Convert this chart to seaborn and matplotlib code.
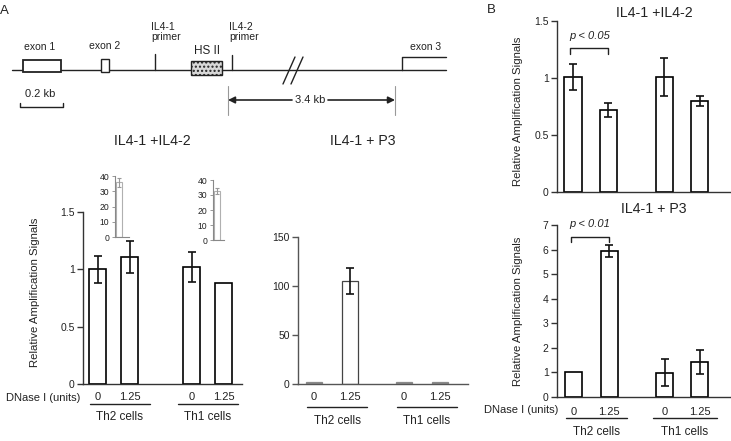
import matplotlib
matplotlib.use("Agg")
import matplotlib.pyplot as plt
import seaborn as sns
import pandas as pd
import numpy as np

# ---------------- data ----------------
cells = ["Th2 cells", "Th1 cells"]
dnase = ["0", "1.25"]

a_il42_vals = [1.00, 1.11, 1.02, 0.88]
a_il42_err = [0.12, 0.14, 0.13, 0.0]
a_p3_vals = [2, 105, 2, 2]
a_p3_err = [0, 13, 0, 0]
inset_vals = [36, 33]
inset_err = [3, 2]
b_il42_vals = [1.01, 0.72, 1.01, 0.80]
b_il42_err = [0.115, 0.06, 0.165, 0.045]
b_p3_vals = [1.03, 5.95, 0.99, 1.41]
b_p3_err = [0.0, 0.25, 0.54, 0.49]

il42_ticks = [0, 0.5, 1, 1.5]
il42_ticklabels = ["0", "0.5", "1", "1.5"]
p3a_ticks = [0, 50, 100, 150]
p3b_ticks = [0, 1, 2, 3, 4, 5, 6, 7]
inset_ticks = [0, 10, 20, 30, 40]

p3a_fill = ["#8a8a8a", "white", "#8a8a8a", "#8a8a8a"]

sns.set_style("white")
plt.rcParams["font.family"] = ["Liberation Sans", "DejaVu Sans"]
TXT = "#222222"

W, H = 731, 441
fig = plt.figure(figsize=(W / 100, H / 100), dpi=100)


def px_axes(left, top, right, bottom, **kw):
    return fig.add_axes([left / W, 1 - bottom / H, (right - left) / W, (bottom - top) / H], **kw)


# overlay in pixel coordinates for diagram and annotations
ov = fig.add_axes([0, 0, 1, 1], zorder=-5)
ov.set_xlim(0, W)
ov.set_ylim(H, 0)
ov.axis("off")


def make_df(vals):
    return pd.DataFrame({
        "cells": [c for c in cells for _ in dnase],
        "dnase": dnase * len(cells),
        "value": vals,
    })


def bar_panel(ax, vals, errs, width, gap, xlim, ylim, ticks, ticklabels,
              spine_col="#333333", edge="black", lw=1.2, fills=None):
    df = make_df(vals)
    sns.barplot(data=df, x="cells", y="value", hue="dnase", order=cells,
                hue_order=dnase, palette=["white", "white"], saturation=1,
                edgecolor=edge, linewidth=lw, width=width, gap=gap,
                errorbar=None, legend=False, ax=ax)
    bars = sorted(ax.patches, key=lambda p: p.get_x())
    centers = [p.get_x() + p.get_width() / 2 for p in bars]
    if fills is not None:
        for p, f in zip(bars, fills):
            p.set_facecolor(f)
            if f != "white":
                p.set_edgecolor(f)
    for c, v, e in zip(centers, vals, errs):
        if e > 0:
            ax.errorbar([c], [v], yerr=[e], fmt="none", ecolor="#111111",
                        elinewidth=1.2, capsize=3.0, capthick=1.2, zorder=5)
    ax.set_xlim(*xlim)
    ax.set_ylim(*ylim)
    ax.set_yticks(ticks)
    ax.set_yticklabels(ticklabels)
    for s in ["top", "right"]:
        ax.spines[s].set_visible(False)
    for s in ["left", "bottom"]:
        ax.spines[s].set_color(spine_col)
        ax.spines[s].set_linewidth(1.0)
    ax.tick_params(axis="y", left=True, length=4, width=1.0, color=spine_col,
                   labelsize=7.5, labelcolor=TXT, pad=2)
    ax.set_xlabel("")
    ax.set_ylabel("")
    ax.patch.set_alpha(0)
    return centers


def xlabels(ax, centers, pad):
    ax.set_xticks(centers)
    ax.set_xticklabels(dnase * len(cells))
    ax.tick_params(axis="x", bottom=False, length=0, labelsize=8,
                   labelcolor=TXT, pad=pad)


# ---------------- Panel A, IL4-1 + IL4-2 ----------------
axA1 = px_axes(83, 212, 242, 384)
cA1 = bar_panel(axA1, a_il42_vals, a_il42_err, 0.68, 0.47, (-0.324, 1.363),
                (0, 1.5), il42_ticks, il42_ticklabels)
xlabels(axA1, cA1, 6)
axA1.set_ylabel("Relative Amplification Signals", fontsize=8.2, color=TXT)
axA1.yaxis.set_label_coords(-0.27, 0.535)

# insets
for (l, t, r, b), v, e in zip([(115, 176, 129, 237), (213, 180, 224, 240)],
                              inset_vals, inset_err):
    axi = px_axes(l, t, r, b)
    sns.barplot(x=["x"], y=[v], color="white", saturation=1, edgecolor="#b0b0b0",
                linewidth=0.8, width=0.8, errorbar=None, ax=axi)
    p = axi.patches[0]
    axi.errorbar([p.get_x() + p.get_width() / 2], [v], yerr=[e], fmt="none",
                 ecolor="#999999", elinewidth=0.8, capsize=1.2, capthick=0.8)
    axi.set_xlim(-0.53, 1.33 if l == 115 else 0.9)
    axi.set_ylim(0, 40)
    axi.set_yticks(inset_ticks)
    axi.set_xticks([])
    for s in ["top", "right"]:
        axi.spines[s].set_visible(False)
    for s in ["left", "bottom"]:
        axi.spines[s].set_color("#888888")
        axi.spines[s].set_linewidth(0.8)
    axi.tick_params(axis="y", left=True, length=2, width=0.6, color="#888888",
                    labelsize=6.2, labelcolor=TXT, pad=2)
    axi.patch.set_alpha(0)

# ---------------- Panel A, IL4-1 + P3 ----------------
axA2 = px_axes(298, 237, 468, 384)
cA2 = bar_panel(axA2, a_p3_vals, a_p3_err, 0.8, 0.556, (-0.378, 1.511),
                (0, 150), p3a_ticks, [str(t) for t in p3a_ticks],
                spine_col="#555555", edge="#444444", lw=0.9, fills=p3a_fill)
xlabels(axA2, cA2, 6)

# ---------------- Panel B, IL4-1 + IL4-2 ----------------
axB1 = px_axes(557, 21, 731, 192)
cB1 = bar_panel(axB1, b_il42_vals, b_il42_err, 0.773, 0.5, (-0.37, 1.537),
                (0, 1.5), il42_ticks, il42_ticklabels)
axB1.set_xticks([])
axB1.set_ylabel("Relative Amplification Signals", fontsize=8.2, color=TXT)
axB1.yaxis.set_label_coords(-0.195, 0.474)

# ---------------- Panel B, IL4-1 + P3 ----------------
axB2 = px_axes(557, 225, 731, 397)
cB2 = bar_panel(axB2, b_p3_vals, b_p3_err, 0.777, 0.52, (-0.38, 1.537),
                (0, 7), p3b_ticks, [str(t) for t in p3b_ticks])
xlabels(axB2, cB2, 7)
axB2.set_ylabel("Relative Amplification Signals", fontsize=8.2, color=TXT)
axB2.yaxis.set_label_coords(-0.195, 0.5)


# significance brackets
def bracket(ax, x0, x1, y, drop, ytxt, label):
    ax.plot([x0, x0, x1, x1], [y - drop, y, y, y - drop], color="#222222",
            lw=1.0, clip_on=False)
    ax.text((x0 + x1) / 2, ytxt, label, ha="center", va="center",
            fontsize=8, style="italic", color=TXT, clip_on=False)


bracket(axB1, cB1[0] - 0.03, cB1[1], 1.263, 0.05, 1.37, "p < 0.05")
bracket(axB2, cB2[0] - 0.03, cB2[1], 6.51, 0.2, 7.04, "p < 0.01")

# ---------------- text annotations (pixel overlay) ----------------
ov.text(0, 11, "A", fontsize=9.5, va="center", ha="left", color=TXT)
ov.text(487, 10, "B", fontsize=9.5, va="center", ha="left", color=TXT)

ov.text(152, 141, "IL4-1 +IL4-2", fontsize=10.2, ha="center", va="center", color=TXT)
ov.text(363, 141, "IL4-1 + P3", fontsize=10.2, ha="center", va="center", color=TXT)
ov.text(654, 13, "IL4-1 +IL4-2", fontsize=10.2, ha="center", va="center", color=TXT)
ov.text(654, 209, "IL4-1 + P3", fontsize=10.2, ha="center", va="center", color=TXT)

ov.text(43, 398, "DNase I (units)", fontsize=8, ha="center", va="center", color=TXT)
ov.text(521, 410, "DNase I (units)", fontsize=8, ha="center", va="center", color=TXT)

groups = [
    # (line y, text y, [(x0,x1),(x0,x1)])
    (404, 417, [(90, 150), (178, 238)]),
    (407, 421, [(307, 367), (397, 457)]),
    (418, 432, [(566, 627), (653, 717)]),
]
for ly, ty, spans in groups:
    for (x0, x1), name in zip(spans, cells):
        ov.plot([x0, x1], [ly, ly], color="#222222", lw=1.0)
        ov.text((x0 + x1) / 2, ty, name, fontsize=8.5, ha="center", va="center",
                color=TXT)

# ---------------- gene diagram ----------------
lc = "#222222"
ov.plot([12, 402], [70, 70], color=lc, lw=1.0)
ov.plot([402, 446], [70, 70], color=lc, lw=1.0)
ov.plot([402, 402, 446], [70, 57, 57], color=lc, lw=1.0)
# break marks
ov.plot([283, 295], [84, 57], color=lc, lw=1.0)
ov.plot([291, 303], [84, 57], color=lc, lw=1.0)
# exons
ov.add_patch(plt.Rectangle((23, 60), 38, 12, facecolor="white", edgecolor=lc, lw=1.3, zorder=3))
ov.add_patch(plt.Rectangle((100.5, 59), 8.5, 13, facecolor="white", edgecolor=lc, lw=1.0, zorder=3))
# HS II
ov.add_patch(plt.Rectangle((191, 61), 31, 14, facecolor="#d8d8d8", edgecolor=lc, lw=1.0,
                           hatch="....", zorder=3))
# primers
ov.plot([155, 155], [54, 70], color=lc, lw=1.0)
ov.plot([232, 232], [55, 70], color=lc, lw=1.0)
ov.text(40, 47, "exon 1", fontsize=7.5, ha="center", va="center", color=TXT)
ov.text(105, 46, "exon 2", fontsize=7.5, ha="center", va="center", color=TXT)
ov.text(151, 32, "IL4-1\nprimer", fontsize=7.5, ha="left", va="center", color=TXT,
        linespacing=1.1)
ov.text(229, 32, "IL4-2\nprimer", fontsize=7.5, ha="left", va="center", color=TXT,
        linespacing=1.1)
ov.text(207, 51, "HS II", fontsize=8.5, ha="center", va="center", color=TXT)
ov.text(426, 47, "exon 3", fontsize=7.5, ha="center", va="center", color=TXT)
# scale bar
ov.plot([20, 20, 63, 63], [103, 107, 107, 103], color=lc, lw=1.0)
ov.text(40, 94, "0.2 kb", fontsize=8, ha="center", va="center", color=TXT)
# 3.4 kb arrow
ov.plot([228, 228], [86, 115], color="#999999", lw=0.8)
ov.plot([395, 395], [86, 115], color="#999999", lw=0.8)
ov.annotate("", xy=(228, 100), xytext=(292, 100),
            arrowprops=dict(arrowstyle="-|>", color=lc, lw=1.2, mutation_scale=10,
                            shrinkA=0, shrinkB=0))
ov.annotate("", xy=(395, 100), xytext=(328, 100),
            arrowprops=dict(arrowstyle="-|>", color=lc, lw=1.2, mutation_scale=10,
                            shrinkA=0, shrinkB=0))
ov.text(310, 100, "3.4 kb", fontsize=8, ha="center", va="center", color=TXT)

fig.savefig("out.png", dpi=100)
